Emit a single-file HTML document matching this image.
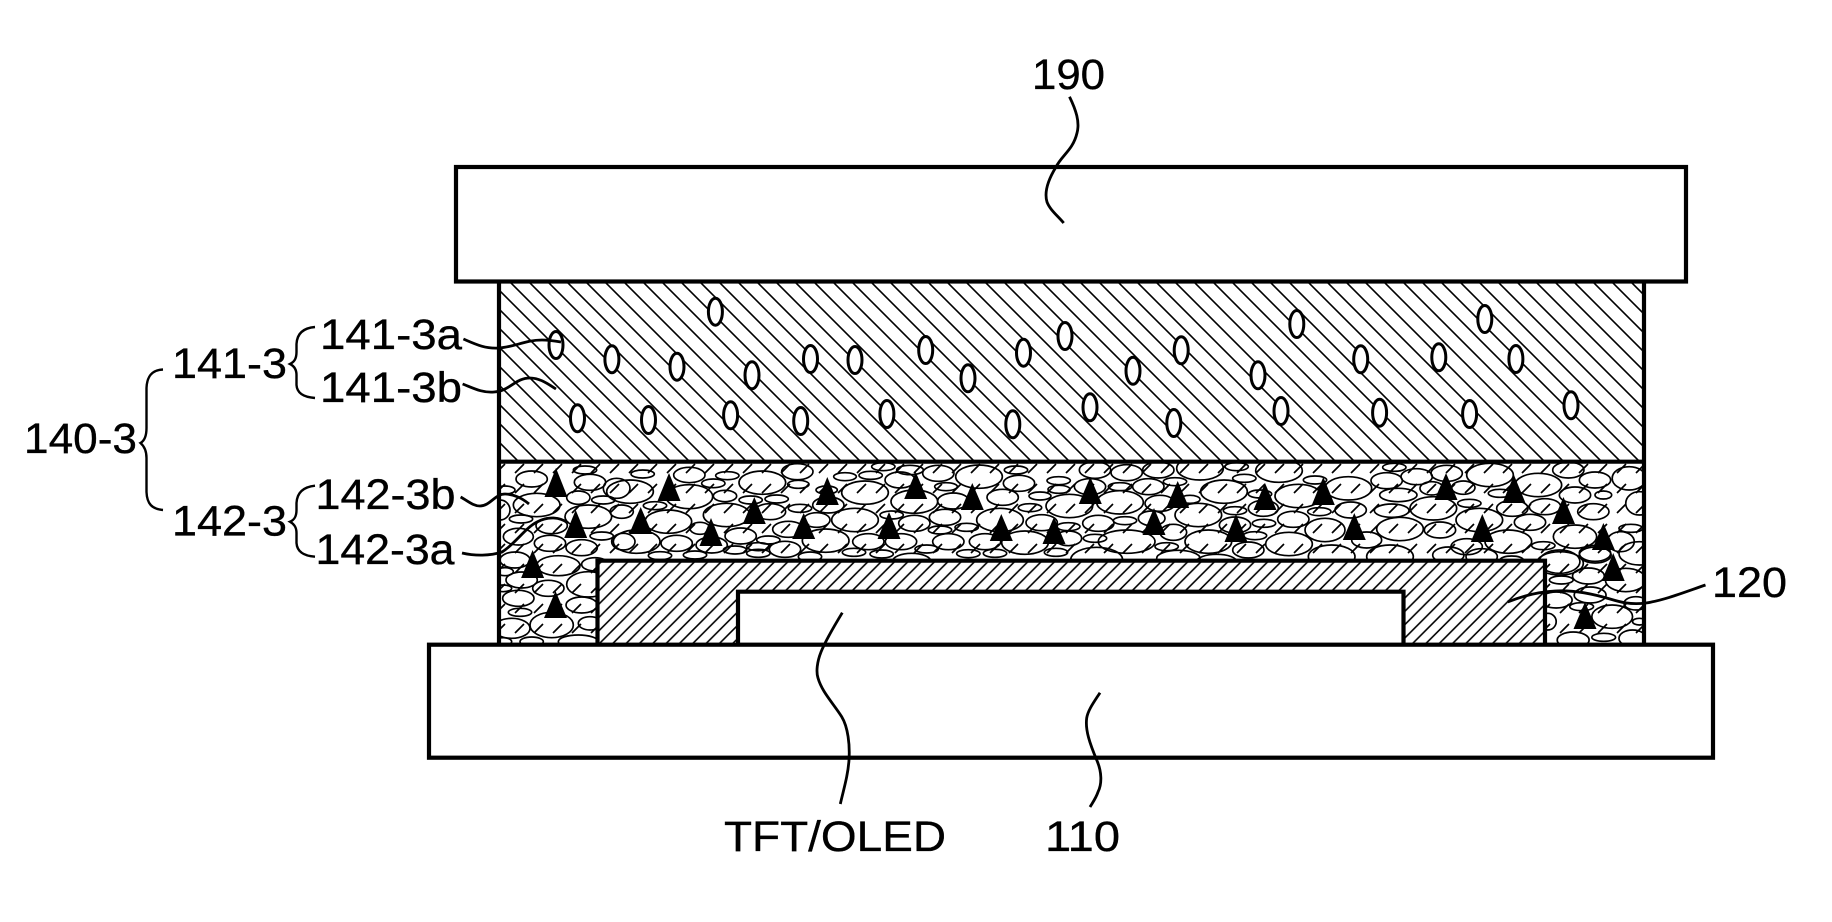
<!DOCTYPE html>
<html><head><meta charset="utf-8"><style>html,body{margin:0;padding:0;background:#fff}svg{display:block}text{font-family:"Liberation Sans",Arial,sans-serif;font-size:43px;fill:#000;stroke:#000;stroke-width:.35px}</style></head><body>
<svg width="1832" height="922" viewBox="0 0 1832 922" xmlns="http://www.w3.org/2000/svg">
<defs>
<pattern id="h1" patternUnits="userSpaceOnUse" width="19" height="19"><path d="M-1 -1L20 20M-1 18L1 20M18 -1L20 1" stroke="#000" stroke-width="1.6" fill="none"/></pattern>
<pattern id="h2" patternUnits="userSpaceOnUse" width="13.33" height="13.33" patternTransform="translate(3.3 0)"><path d="M-1 14.33L14.33 -1M-1 1L1 -1M12.33 14.33L14.33 12.33" stroke="#000" stroke-width="1.6" fill="none"/></pattern>
<pattern id="h3" patternUnits="userSpaceOnUse" width="38" height="40"><path d="M2 13L11 4M21 33L30 24M21 13L30 4M2 33L11 24" stroke="#000" stroke-width="1.7" fill="none"/></pattern>
<clipPath id="mid"><rect x="499" y="462" width="1145" height="183"/></clipPath>
</defs>
<rect width="1832" height="922" fill="#fff"/>
<rect x="499" y="281" width="1145" height="181" fill="url(#h1)"/>
<g clip-path="url(#mid)">
<rect x="499" y="462" width="1145" height="183" fill="url(#h3)"/>
<g fill="none" stroke="#000" stroke-width="5" transform="translate(620 440) scale(.33333)">
<ellipse cx="68" cy="102" rx="35" ry="12"/><ellipse cx="208" cy="105" rx="47" ry="23"/><ellipse cx="280" cy="130" rx="35" ry="13"/><ellipse cx="322" cy="107" rx="35" ry="12"/><ellipse cx="427" cy="128" rx="70" ry="35"/><ellipse cx="532" cy="95" rx="47" ry="24"/><ellipse cx="535" cy="133" rx="32" ry="12"/><ellipse cx="675" cy="110" rx="34" ry="12"/><ellipse cx="752" cy="106" rx="35" ry="12"/><ellipse cx="790" cy="80" rx="35" ry="12"/><ellipse cx="955" cy="100" rx="47" ry="24"/><ellipse cx="1077" cy="110" rx="70" ry="35"/><ellipse cx="870" cy="90" rx="40" ry="14"/><ellipse cx="1188" cy="90" rx="35" ry="12"/><ellipse cx="1197" cy="130" rx="47" ry="24"/><ellipse cx="1316" cy="122" rx="35" ry="12"/><ellipse cx="1425" cy="90" rx="47" ry="25"/><ellipse cx="1317" cy="148" rx="33" ry="12"/><ellipse cx="1260" cy="168" rx="33" ry="12"/><ellipse cx="1410" cy="140" rx="47" ry="24"/><ellipse cx="840" cy="120" rx="45" ry="24"/>
<ellipse cx="30" cy="155" rx="70" ry="35"/><ellipse cx="208" cy="170" rx="70" ry="36"/><ellipse cx="315" cy="168" rx="35" ry="17"/><ellipse cx="392" cy="180" rx="35" ry="12"/><ellipse cx="470" cy="177" rx="35" ry="12"/><ellipse cx="735" cy="158" rx="70" ry="35"/><ellipse cx="883" cy="185" rx="70" ry="35"/><ellipse cx="620" cy="150" rx="32" ry="12"/><ellipse cx="978" cy="140" rx="34" ry="12"/><ellipse cx="1000" cy="183" rx="47" ry="24"/><ellipse cx="1148" cy="172" rx="47" ry="24"/><ellipse cx="1348" cy="198" rx="70" ry="35"/>
<ellipse cx="105" cy="197" rx="35" ry="12"/><ellipse cx="145" cy="245" rx="70" ry="35"/><ellipse cx="320" cy="225" rx="70" ry="35"/><ellipse cx="450" cy="215" rx="47" ry="24"/><ellipse cx="540" cy="205" rx="35" ry="12"/><ellipse cx="625" cy="195" rx="47" ry="24"/><ellipse cx="705" cy="240" rx="70" ry="35"/><ellipse cx="815" cy="225" rx="35" ry="12"/><ellipse cx="883" cy="250" rx="47" ry="24"/><ellipse cx="975" cy="232" rx="47" ry="24"/><ellipse cx="1140" cy="240" rx="70" ry="35"/><ellipse cx="1230" cy="203" rx="35" ry="12"/><ellipse cx="1265" cy="248" rx="47" ry="24"/><ellipse cx="1435" cy="250" rx="47" ry="24"/><ellipse cx="1345" cy="260" rx="35" ry="12"/>
<ellipse cx="240" cy="265" rx="30" ry="18"/><ellipse cx="505" cy="268" rx="47" ry="24"/><ellipse cx="590" cy="240" rx="40" ry="22"/><ellipse cx="50" cy="305" rx="70" ry="35"/><ellipse cx="170" cy="310" rx="47" ry="24"/><ellipse cx="362" cy="288" rx="47" ry="24"/><ellipse cx="445" cy="300" rx="35" ry="12"/><ellipse cx="275" cy="315" rx="47" ry="24"/><ellipse cx="495" cy="328" rx="47" ry="24"/><ellipse cx="617" cy="302" rx="70" ry="35"/><ellipse cx="745" cy="305" rx="47" ry="24"/><ellipse cx="843" cy="305" rx="47" ry="24"/><ellipse cx="985" cy="305" rx="47" ry="24"/><ellipse cx="960" cy="270" rx="35" ry="12"/><ellipse cx="1040" cy="262" rx="35" ry="12"/><ellipse cx="1095" cy="305" rx="47" ry="24"/><ellipse cx="1215" cy="308" rx="70" ry="35"/><ellipse cx="1345" cy="295" rx="40" ry="22"/><ellipse cx="1425" cy="295" rx="35" ry="12"/>
<ellipse cx="120" cy="347" rx="35" ry="12"/><ellipse cx="225" cy="345" rx="35" ry="12"/><ellipse cx="345" cy="330" rx="35" ry="12"/><ellipse cx="415" cy="340" rx="35" ry="12"/><ellipse cx="415" cy="320" rx="35" ry="12"/><ellipse cx="570" cy="350" rx="35" ry="14"/><ellipse cx="702" cy="337" rx="35" ry="12"/><ellipse cx="785" cy="342" rx="35" ry="12"/><ellipse cx="920" cy="327" rx="35" ry="12"/><ellipse cx="875" cy="365" rx="58" ry="25"/><ellipse cx="1045" cy="341" rx="35" ry="12"/><ellipse cx="1125" cy="340" rx="35" ry="12"/><ellipse cx="1308" cy="337" rx="35" ry="12"/><ellipse cx="1430" cy="360" rx="78" ry="38"/>
</g>
<g fill="none" stroke="#000" stroke-width="5" transform="translate(1110 440) scale(.33333)">
<ellipse cx="50" cy="98" rx="47" ry="24"/><ellipse cx="145" cy="90" rx="47" ry="24"/><ellipse cx="270" cy="85" rx="70" ry="35"/><ellipse cx="380" cy="80" rx="35" ry="12"/><ellipse cx="507" cy="92" rx="70" ry="35"/><ellipse cx="615" cy="120" rx="35" ry="12"/><ellipse cx="30" cy="140" rx="35" ry="12"/><ellipse cx="115" cy="140" rx="47" ry="24"/><ellipse cx="195" cy="125" rx="35" ry="12"/><ellipse cx="342" cy="155" rx="70" ry="35"/><ellipse cx="403" cy="115" rx="35" ry="12"/><ellipse cx="30" cy="187" rx="70" ry="35"/><ellipse cx="150" cy="190" rx="45" ry="24"/><ellipse cx="240" cy="178" rx="30" ry="12"/><ellipse cx="265" cy="225" rx="70" ry="35"/><ellipse cx="375" cy="212" rx="35" ry="12"/><ellipse cx="450" cy="162" rx="35" ry="12"/><ellipse cx="460" cy="205" rx="45" ry="24"/><ellipse cx="565" cy="168" rx="70" ry="35"/><ellipse cx="715" cy="145" rx="70" ry="35"/><ellipse cx="830" cy="122" rx="47" ry="24"/><ellipse cx="853" cy="82" rx="35" ry="12"/><ellipse cx="920" cy="110" rx="47" ry="24"/><ellipse cx="1010" cy="100" rx="47" ry="24"/><ellipse cx="1140" cy="105" rx="70" ry="35"/><ellipse cx="1285" cy="135" rx="70" ry="35"/><ellipse cx="1375" cy="90" rx="47" ry="24"/><ellipse cx="1455" cy="120" rx="47" ry="24"/><ellipse cx="865" cy="165" rx="56" ry="20"/><ellipse cx="965" cy="145" rx="35" ry="20"/><ellipse cx="1060" cy="143" rx="35" ry="20"/><ellipse cx="1170" cy="160" rx="35" ry="12"/><ellipse cx="1078" cy="190" rx="35" ry="12"/><ellipse cx="1395" cy="165" rx="47" ry="24"/><ellipse cx="1480" cy="165" rx="25" ry="12"/>
<ellipse cx="45" cy="242" rx="35" ry="12"/><ellipse cx="125" cy="235" rx="40" ry="22"/><ellipse cx="375" cy="255" rx="47" ry="24"/><ellipse cx="462" cy="250" rx="35" ry="12"/><ellipse cx="550" cy="238" rx="47" ry="24"/><ellipse cx="628" cy="215" rx="35" ry="12"/><ellipse cx="722" cy="210" rx="47" ry="24"/><ellipse cx="845" cy="212" rx="52" ry="20"/><ellipse cx="970" cy="205" rx="70" ry="35"/><ellipse cx="1108" cy="240" rx="70" ry="35"/><ellipse cx="1207" cy="205" rx="47" ry="24"/><ellipse cx="1305" cy="200" rx="47" ry="24"/><ellipse cx="1260" cy="247" rx="47" ry="24"/><ellipse cx="1450" cy="215" rx="47" ry="24"/>
<ellipse cx="50" cy="305" rx="85" ry="35"/><ellipse cx="190" cy="277" rx="40" ry="24"/><ellipse cx="295" cy="305" rx="70" ry="35"/><ellipse cx="435" cy="287" rx="35" ry="12"/><ellipse cx="645" cy="270" rx="60" ry="35"/><ellipse cx="770" cy="300" rx="45" ry="24"/><ellipse cx="870" cy="267" rx="70" ry="35"/><ellipse cx="990" cy="270" rx="47" ry="24"/><ellipse cx="1070" cy="320" rx="47" ry="24"/><ellipse cx="1195" cy="305" rx="70" ry="35"/><ellipse cx="1395" cy="290" rx="65" ry="35"/><ellipse cx="1300" cy="317" rx="35" ry="12"/><ellipse cx="1455" cy="340" rx="47" ry="24"/>
<ellipse cx="170" cy="320" rx="35" ry="12"/><ellipse cx="415" cy="330" rx="47" ry="24"/><ellipse cx="537" cy="312" rx="70" ry="35"/><ellipse cx="665" cy="350" rx="70" ry="35"/><ellipse cx="205" cy="355" rx="65" ry="24"/><ellipse cx="320" cy="365" rx="60" ry="22"/><ellipse cx="840" cy="350" rx="70" ry="35"/><ellipse cx="1015" cy="345" rx="47" ry="24"/><ellipse cx="1115" cy="350" rx="47" ry="24"/><ellipse cx="1205" cy="360" rx="35" ry="12"/><ellipse cx="1350" cy="370" rx="70" ry="35"/>
</g>
<g fill="none" stroke="#000" stroke-width="5" transform="translate(495 455) scale(.33333)">
<ellipse cx="110" cy="72" rx="47" ry="24"/><ellipse cx="285" cy="82" rx="47" ry="24"/><ellipse cx="270" cy="45" rx="35" ry="12"/><ellipse cx="365" cy="100" rx="40" ry="30"/><ellipse cx="30" cy="105" rx="30" ry="12"/><ellipse cx="125" cy="150" rx="70" ry="35"/><ellipse cx="250" cy="128" rx="35" ry="20"/><ellipse cx="325" cy="135" rx="35" ry="12"/><ellipse cx="15" cy="165" rx="30" ry="30"/><ellipse cx="78" cy="192" rx="35" ry="12"/><ellipse cx="170" cy="212" rx="47" ry="24"/><ellipse cx="280" cy="185" rx="70" ry="35"/><ellipse cx="380" cy="170" rx="35" ry="20"/><ellipse cx="320" cy="243" rx="35" ry="12"/><ellipse cx="70" cy="245" rx="45" ry="25"/><ellipse cx="165" cy="265" rx="47" ry="24"/><ellipse cx="260" cy="278" rx="47" ry="24"/><ellipse cx="385" cy="260" rx="35" ry="25"/><ellipse cx="190" cy="332" rx="65" ry="30"/><ellipse cx="60" cy="315" rx="45" ry="24"/><ellipse cx="300" cy="328" rx="40" ry="20"/><ellipse cx="80" cy="375" rx="47" ry="24"/><ellipse cx="160" cy="400" rx="47" ry="24"/><ellipse cx="280" cy="388" rx="65" ry="38"/><ellipse cx="30" cy="350" rx="25" ry="12"/><ellipse cx="70" cy="430" rx="47" ry="24"/><ellipse cx="25" cy="400" rx="25" ry="10"/><ellipse cx="75" cy="472" rx="35" ry="12"/><ellipse cx="260" cy="450" rx="47" ry="24"/><ellipse cx="170" cy="510" rx="65" ry="38"/><ellipse cx="285" cy="505" rx="35" ry="20"/><ellipse cx="50" cy="520" rx="55" ry="30"/><ellipse cx="110" cy="560" rx="35" ry="14"/><ellipse cx="250" cy="560" rx="60" ry="20"/><ellipse cx="25" cy="560" rx="25" ry="12"/>
</g>
<g fill="none" stroke="#000" stroke-width="5" transform="translate(1300 440) scale(.33933 .33333)">
<ellipse cx="970" cy="115" rx="50" ry="35"/><ellipse cx="1000" cy="190" rx="40" ry="35"/><ellipse cx="975" cy="265" rx="35" ry="12"/><ellipse cx="1000" cy="340" rx="60" ry="35"/><ellipse cx="945" cy="305" rx="40" ry="30"/><ellipse cx="870" cy="345" rx="47" ry="24"/><ellipse cx="960" cy="420" rx="60" ry="35"/><ellipse cx="850" cy="408" rx="47" ry="24"/><ellipse cx="990" cy="490" rx="35" ry="20"/><ellipse cx="920" cy="530" rx="60" ry="35"/><ellipse cx="1000" cy="545" rx="20" ry="10"/><ellipse cx="980" cy="595" rx="40" ry="25"/><ellipse cx="895" cy="592" rx="35" ry="12"/><ellipse cx="805" cy="600" rx="47" ry="24"/><ellipse cx="765" cy="365" rx="60" ry="35"/><ellipse cx="770" cy="420" rx="35" ry="12"/><ellipse cx="755" cy="480" rx="47" ry="24"/><ellipse cx="730" cy="545" rx="25" ry="25"/><ellipse cx="855" cy="465" rx="47" ry="24"/><ellipse cx="830" cy="500" rx="35" ry="12"/>
</g>
</g>
<!-- TFT cap -->
<rect x="597.5" y="560.7" width="947.5" height="84" fill="#fff"/>
<rect x="597.5" y="560.7" width="947.5" height="84" fill="url(#h2)"/>
<path d="M597.5 645V560.7H1545V645" fill="none" stroke="#000" stroke-width="4.2"/>
<path d="M738 645V591.7H1403.5V645" fill="#fff" stroke="#000" stroke-width="4.2"/>
<!-- small ovals -->
<g fill="#fff" stroke="#000" stroke-width="3">
<ellipse cx="556" cy="345" rx="7" ry="13.5"/><ellipse cx="611.9" cy="359.3" rx="7" ry="13.5"/><ellipse cx="677" cy="366.7" rx="7" ry="13.5"/><ellipse cx="715.4" cy="311.7" rx="7" ry="13.5"/><ellipse cx="752" cy="375.3" rx="7" ry="13.5"/><ellipse cx="810.5" cy="359" rx="7" ry="13.5"/><ellipse cx="855" cy="360" rx="7" ry="13.5"/><ellipse cx="925.7" cy="350" rx="7" ry="13.5"/><ellipse cx="968" cy="378.3" rx="7" ry="13.5"/><ellipse cx="1023.5" cy="352.7" rx="7" ry="13.5"/><ellipse cx="1065" cy="336" rx="7" ry="13.5"/><ellipse cx="1133" cy="370.8" rx="7" ry="13.5"/><ellipse cx="577.5" cy="418.3" rx="7" ry="13.5"/><ellipse cx="648.5" cy="420" rx="7" ry="13.5"/><ellipse cx="730.6" cy="415.3" rx="7" ry="13.5"/><ellipse cx="800.7" cy="421" rx="7" ry="13.5"/><ellipse cx="886.9" cy="414" rx="7" ry="13.5"/><ellipse cx="1012.8" cy="424.3" rx="7" ry="13.5"/><ellipse cx="1090" cy="407.3" rx="7" ry="13.5"/>
<ellipse cx="1181.2" cy="350.3" rx="7" ry="13.5"/><ellipse cx="1173.8" cy="423" rx="7" ry="13.5"/><ellipse cx="1258" cy="375.3" rx="7" ry="13.5"/><ellipse cx="1281" cy="411" rx="7" ry="13.5"/><ellipse cx="1296.8" cy="324" rx="7" ry="13.5"/><ellipse cx="1360.7" cy="359.3" rx="7" ry="13.5"/><ellipse cx="1379.6" cy="412.7" rx="7" ry="13.5"/><ellipse cx="1438.8" cy="357.3" rx="7" ry="13.5"/><ellipse cx="1469.6" cy="414" rx="7" ry="13.5"/><ellipse cx="1484.8" cy="319" rx="7" ry="13.5"/><ellipse cx="1515.9" cy="359" rx="7" ry="13.5"/><ellipse cx="1571" cy="405.3" rx="7" ry="13.5"/>
</g>
<!-- triangles -->
<g fill="#000">
<polygon points="556,468 567.5,497 544.5,497"/><polygon points="575.7,510 587.2,538 564.2,538"/><polygon points="532.6,550 544.1,578 521.1,578"/><polygon points="555.5,591 567,618 544,618"/>
<polygon points="669,473 680.5,501 657.5,501"/><polygon points="640.7,507 652.2,534 629.2,534"/><polygon points="711,518 722.5,546 699.5,546"/><polygon points="754.3,497 765.8,524 742.8,524"/><polygon points="803.7,513 815.2,539 792.2,539"/><polygon points="827.3,477 838.8,505 815.8,505"/><polygon points="889,512 900.5,539 877.5,539"/><polygon points="915.7,472 927.2,499 904.2,499"/><polygon points="972.3,483 983.8,510 960.8,510"/><polygon points="1001.3,514 1012.8,541 989.8,541"/><polygon points="1054,517 1065.5,544 1042.5,544"/><polygon points="1090.3,477 1101.8,504 1078.8,504"/>
<polygon points="1177.7,481 1189.2,508 1166.2,508"/><polygon points="1154,508 1165.5,535 1142.5,535"/><polygon points="1236,514 1247.5,542 1224.5,542"/><polygon points="1265,483 1276.5,510 1253.5,510"/><polygon points="1323.3,477 1334.8,505 1311.8,505"/><polygon points="1354.3,513 1365.8,540 1342.8,540"/><polygon points="1446,473 1457.5,500 1434.5,500"/><polygon points="1482.3,514 1493.8,542 1470.8,542"/><polygon points="1514,475 1525.5,503 1502.5,503"/><polygon points="1563.5,497 1575,524 1552,524"/><polygon points="1603.4,523 1614.9,550 1591.9,550"/><polygon points="1613.2,553 1624.7,581 1601.7,581"/><polygon points="1585,602 1596.5,629 1573.5,629"/>
</g>
<!-- outlines -->
<g fill="none" stroke="#000" stroke-width="4.2">
<path d="M499 281V645M1644 281V645"/>
<path d="M499 461.7H1644"/>
<rect x="456" y="167" width="1230" height="114.5" fill="#fff"/>
<rect x="429" y="644.7" width="1284" height="113" fill="#fff"/>
</g>
<!-- leaders -->
<g fill="none" stroke="#000" stroke-width="2.8">
<path d="M1069.5 96.7C1076 110 1080 122 1077 133C1073 150 1062 155 1056 167C1048 180 1044 192 1047 202C1050 210 1058 216 1063.7 223"/>
<path d="M463.4 339C475 344 485 349 499 348C515 347 525 340 542 340C548 340 555 341 561 342"/>
<path d="M462.6 384C473 388 482 393 494 392C510 391 515 378 530 378C540 378 548 384 556 389"/>
<path d="M460.6 497C468 501 473 506 480 506C490 506 495 494 505 494C513 494 522 498 529 504"/>
<path d="M462 553C475 556 490 556 502 552C515 544 525 528 537 522C548 516 560 517 568 523"/>
<path d="M1705.5 585C1685 592 1665 600 1646 603C1630 605 1620 602 1610 599C1590 593 1572 590 1555 591C1535 592 1520 597 1507.7 602"/>
<path d="M842.3 612.7C833 628 825 642 821 652C817 662 816 672 818 678C822 692 833 703 841.7 716.7C848 727 850 745 849 760C848 775 844 788 840.3 804"/>
<path d="M1100 692.7C1094 702 1088 710 1086.7 718C1085 730 1090 744 1096.7 760C1102 772 1102 784 1098 792C1096 798 1093 802 1090 807"/>
</g>
<!-- braces -->
<g fill="none" stroke="#000" stroke-width="2.4">
<path d="M163 369.5C152 370 147 376 146.5 388V428C146.5 437 144 441 140.5 443C144 446 146.5 450 146.5 458V492C147 504 152 509 163 510"/>
<path d="M315 327C303 328 297 334 296.5 344V352C296.5 359 294 362 290 364C294 366 296.5 369 296.5 375V385C297 393 303 397 315 398"/>
<path d="M315 485.7C303 487 297 493 296.5 503V510C296.5 517 294 520 290 521.7C294 524 296.5 527 296.5 533V543C297 551 303 556 315 556.7"/>
</g>
<!-- labels -->
<text x="24" y="453" textLength="113" lengthAdjust="spacingAndGlyphs">140-3</text>
<text x="172" y="378" textLength="115" lengthAdjust="spacingAndGlyphs">141-3</text>
<text x="320" y="349" textLength="142" lengthAdjust="spacingAndGlyphs">141-3a</text>
<text x="320" y="402" textLength="142" lengthAdjust="spacingAndGlyphs">141-3b</text>
<text x="172" y="535.7" textLength="115" lengthAdjust="spacingAndGlyphs">142-3</text>
<text x="315.5" y="509" textLength="140" lengthAdjust="spacingAndGlyphs">142-3b</text>
<text x="315.5" y="564" textLength="139" lengthAdjust="spacingAndGlyphs">142-3a</text>
<text x="1032" y="89" textLength="73" lengthAdjust="spacingAndGlyphs">190</text>
<text x="1712" y="597" textLength="75" lengthAdjust="spacingAndGlyphs">120</text>
<text x="724" y="851" textLength="222" lengthAdjust="spacingAndGlyphs">TFT/OLED</text>
<text x="1045" y="851" textLength="75" lengthAdjust="spacingAndGlyphs">110</text>
</svg>
</body></html>
